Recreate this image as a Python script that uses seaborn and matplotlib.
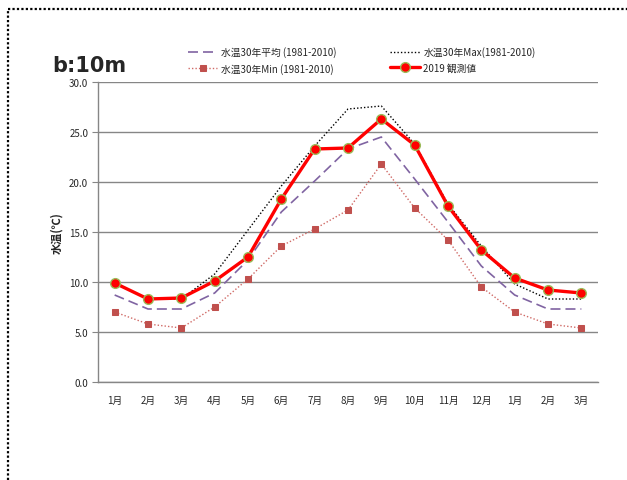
import numpy as np
import pandas as pd
import matplotlib
matplotlib.use("Agg")
import matplotlib.pyplot as plt
import seaborn as sns

# 月ラベル（1月〜翌年3月）
tsuki = ["1月", "2月", "3月", "4月", "5月", "6月", "7月", "8月", "9月",
         "10月", "11月", "12月", "1月", "2月", "3月"]

# 水温30年平均 (1981-2010)
heikin = [8.7, 7.3, 7.3, 8.9, 12.2, 17.0, 20.1, 23.3, 24.5, 20.3, 16.0, 11.6, 8.7, 7.3, 7.3]
# 水温30年Max (1981-2010)
saidai = [9.9, 8.3, 8.3, 10.8, 15.2, 19.6, 23.6, 27.3, 27.6, 23.8, 17.8, 13.6, 9.8, 8.3, 8.3]
# 水温30年Min (1981-2010)
saisho = [7.0, 5.8, 5.4, 7.5, 10.3, 13.6, 15.3, 17.2, 21.8, 17.4, 14.2, 9.5, 7.0, 5.8, 5.4]
# 2019 観測値
kansoku = [9.9, 8.3, 8.4, 10.1, 12.5, 18.3, 23.3, 23.4, 26.3, 23.7, 17.6, 13.2, 10.4, 9.2, 8.9]

sns.set_style("white")
plt.rcParams["font.family"] = ["Noto Sans CJK JP", "DejaVu Sans"]

x = np.arange(len(tsuki))
df = pd.DataFrame({"x": x, "heikin": heikin, "saidai": saidai,
                   "saisho": saisho, "kansoku": kansoku})

fig = plt.figure(figsize=(6.27, 4.81), dpi=100)
ax = fig.add_axes([98 / 627, 1 - 383 / 481, 500 / 627, 300 / 481])

sns.lineplot(data=df, x="x", y="heikin", ax=ax, color="#8064A2", lw=1.2,
             label="水温30年平均 (1981-2010)", zorder=3)
ax.lines[-1].set_dashes([6, 3])
sns.lineplot(data=df, x="x", y="saisho", ax=ax, color="#D06A66", lw=1.0,
             marker="s", markersize=5, markeredgecolor="#C0504D",
             markerfacecolor="#C0504D", label="水温30年Min (1981-2010)", zorder=3)
ax.lines[-1].set_linestyle((0, (1, 1.5)))
sns.lineplot(data=df, x="x", y="saidai", ax=ax, color="black", lw=1.0,
             label="水温30年Max(1981-2010)", zorder=3)
ax.lines[-1].set_linestyle((0, (1, 1.5)))
sns.lineplot(data=df, x="x", y="kansoku", ax=ax, color="#FF0000", lw=2.4,
             marker="o", markersize=7, markerfacecolor="#FF0000",
             markeredgecolor="#9BBB59", markeredgewidth=1.0,
             label="2019 観測値", zorder=4)

ax.set_xlim(-0.5, len(tsuki) - 0.5)
ax.set_ylim(0, 30)
ax.set_yticks(np.arange(0, 30.1, 5))
ax.set_yticklabels([f"{v:.1f}" for v in np.arange(0, 30.1, 5)], fontsize=7)
ax.set_xticks(x)
ax.set_xticklabels(tsuki, fontsize=7)
ax.set_xticks(np.arange(-0.5, len(tsuki), 1), minor=True)
ax.tick_params(axis="x", which="major", length=0, pad=9)
ax.tick_params(axis="x", which="minor", length=4, color="#868686", direction="out")
ax.tick_params(axis="y", length=4, color="#868686", direction="out", pad=3, left=True)
ax.yaxis.grid(True, color="#868686", lw=1.0)
ax.set_axisbelow(True)
for s in ["top", "right"]:
    ax.spines[s].set_visible(False)
for s in ["left", "bottom"]:
    ax.spines[s].set_color("#868686")
    ax.spines[s].set_linewidth(1.0)
ax.set_xlabel("")
ax.set_ylabel("水温(℃)", fontsize=8, fontweight="bold", labelpad=4)

# 凡例 (順番: 平均, Min, Max, 観測値 → 2列)
h, l = ax.get_legend_handles_labels()
ax.get_legend().remove()
fig.legend(h, l, ncol=2, loc="center", bbox_to_anchor=(362 / 627, 1 - 61 / 481),
           frameon=False, fontsize=7, handlelength=3.0, columnspacing=5.5,
           labelspacing=0.55, handletextpad=0.4)

fig.text(52 / 627, 1 - 66 / 481, "b:10m", fontsize=15, fontweight="bold",
         va="center", ha="left", family="DejaVu Sans")

# 点線の枠
fig.add_artist(plt.Line2D([8 / 627, 8 / 627], [0, 1 - 10 / 481], transform=fig.transFigure,
                          color="black", lw=1.6, ls=(0, (1, 1))))
fig.add_artist(plt.Line2D([8 / 627, 1], [1 - 10 / 481, 1 - 10 / 481], transform=fig.transFigure,
                          color="black", lw=1.6, ls=(0, (1, 1))))

fig.savefig("out.png", dpi=100)
